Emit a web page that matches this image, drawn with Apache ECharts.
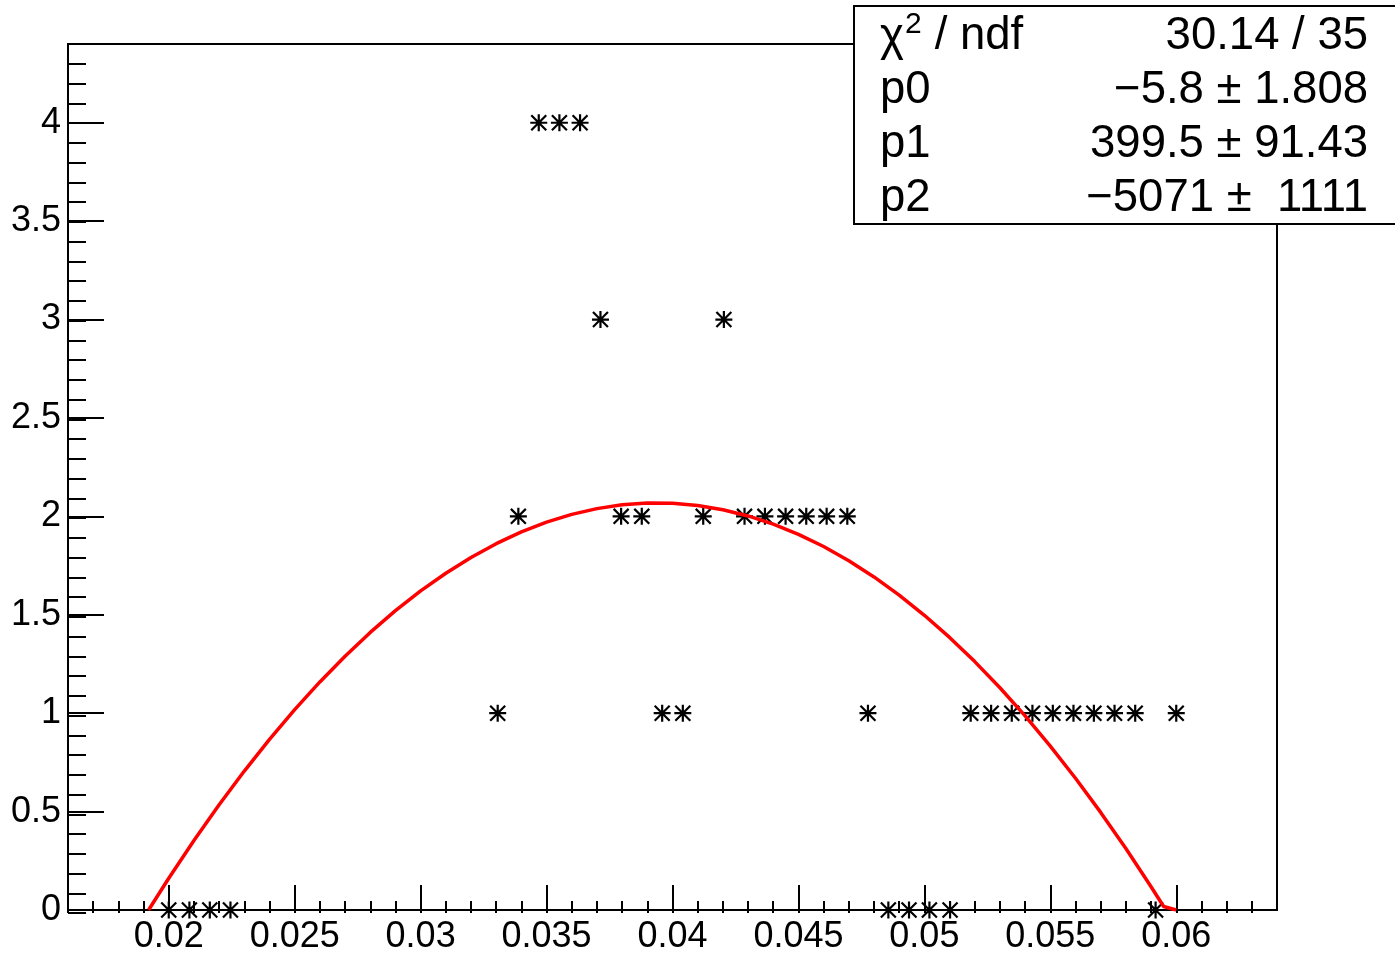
<!DOCTYPE html>
<html>
<head>
<meta charset="utf-8">
<script src="https://cdn.jsdelivr.net/npm/echarts@6/dist/echarts.min.js"></script>
<style>html,body{margin:0;padding:0;background:#fff}#c{width:1395px;height:955px}</style>
</head>
<body>
<div id="c"></div>
<script>
// ---- data ----
const xVals = [0.02, 0.02082, 0.02163, 0.02245,
  0.03306, 0.03388, 0.03469, 0.03551, 0.03633, 0.03714, 0.03796, 0.03878, 0.03959, 0.04041,
  0.04122, 0.04204, 0.04286, 0.04367, 0.04449, 0.04531, 0.04612, 0.04694, 0.04776, 0.04857,
  0.04939, 0.0502, 0.05102, 0.05184, 0.05265, 0.05347, 0.05429, 0.0551, 0.05592, 0.05673,
  0.05755, 0.05837, 0.05918, 0.06];
const yVals = [0, 0, 0, 0,
  1, 2, 4, 4, 4, 3, 2, 2, 1, 1,
  2, 3, 2, 2, 2, 2, 2, 2, 1, 0,
  0, 0, 0, 1, 1, 1, 1, 1, 1, 1,
  1, 1, 0, 1];

// fit curve (pol2) as drawn in the reference
const fitX = [0.0192, 0.020, 0.021, 0.022, 0.023, 0.024, 0.025, 0.026, 0.027, 0.028, 0.029,
  0.030, 0.031, 0.032, 0.033, 0.034, 0.035, 0.036, 0.037, 0.038, 0.039, 0.040, 0.041, 0.042,
  0.043, 0.044, 0.045, 0.046, 0.047, 0.048, 0.049, 0.050, 0.051, 0.052, 0.053, 0.054, 0.055,
  0.056, 0.057, 0.058, 0.059, 0.0595, 0.060];
const fitY = [0, 0.1615, 0.3531, 0.5346, 0.7059, 0.8671, 1.0181, 1.1589, 1.2897, 1.4103, 1.5208,
  1.6211, 1.7112, 1.7913, 1.8612, 1.9209, 1.9705, 2.0100, 2.0393, 2.0585, 2.0675, 2.0664, 2.0552, 2.0338,
  2.0022, 1.9606, 1.9087, 1.8468, 1.7747, 1.6924, 1.6001, 1.4975, 1.3849, 1.2621, 1.1291, 0.9860, 0.8328,
  0.6694, 0.4959, 0.3122, 0.1184, 0.018, 0];

// axis ticks and labels
const xMajor = [0.02, 0.025, 0.03, 0.035, 0.04, 0.045, 0.05, 0.055, 0.06];
const xLabels = ['0.02', '0.025', '0.03', '0.035', '0.04', '0.045', '0.05', '0.055', '0.06'];
const xMinor = [0.016, 0.017, 0.018, 0.019, 0.020, 0.021, 0.022, 0.023, 0.024, 0.025, 0.026, 0.027,
  0.028, 0.029, 0.030, 0.031, 0.032, 0.033, 0.034, 0.035, 0.036, 0.037, 0.038, 0.039, 0.040,
  0.041, 0.042, 0.043, 0.044, 0.045, 0.046, 0.047, 0.048, 0.049, 0.050, 0.051, 0.052, 0.053,
  0.054, 0.055, 0.056, 0.057, 0.058, 0.059, 0.060, 0.061, 0.062, 0.063];
const yMajor = [0, 0.5, 1, 1.5, 2, 2.5, 3, 3.5, 4];
const yLabels = ['0', '0.5', '1', '1.5', '2', '2.5', '3', '3.5', '4'];
const yMinor = [0, 0.1, 0.2, 0.3, 0.4, 0.5, 0.6, 0.7, 0.8, 0.9, 1.0, 1.1, 1.2, 1.3, 1.4, 1.5,
  1.6, 1.7, 1.8, 1.9, 2.0, 2.1, 2.2, 2.3, 2.4, 2.5, 2.6, 2.7, 2.8, 2.9, 3.0, 3.1, 3.2, 3.3,
  3.4, 3.5, 3.6, 3.7, 3.8, 3.9, 4.0, 4.1, 4.2, 4.3];

// stats box text
const statNames = ['p0', 'p1', 'p2'];
const statValues = ['\u22125.8 \u00b1 1.808', '399.5 \u00b1 91.43', '\u22125071 \u00b1  1111'];
const chiText = '30.14 / 35';

// ---- chart ----
const FONT = "'Liberation Sans', Arial, Helvetica, sans-serif";
const G = {left: 68, top: 44, width: 1209, height: 869};
const STAR = 'path://M0,-1L0,1M-1,0L1,0M-0.88,-0.88L0.88,0.88M-0.88,0.88L0.88,-0.88';

function lookup(vals, labels, v) {
  for (let i = 0; i < vals.length; i++) if (Math.abs(vals[i] - v) < 1e-9) return labels[i];
  return '';
}
const tickStyle = {color: '#000', width: 2};
const SF = 45.5;

const chart = echarts.init(document.getElementById('c'), null, {renderer: 'canvas'});
const statGraphics = [
  {type: 'rect', shape: {x: 854, y: 6, width: 600, height: 218},
   style: {fill: '#fff', stroke: '#000', lineWidth: 2}, z: 100},
  {type: 'text', x: 880, y: 37, z: 101,
   style: {text: '\u03c7', fontSize: SF, fontFamily: FONT, fill: '#000', align: 'left', verticalAlign: 'middle'}},
  {type: 'text', x: 905, y: 25, z: 101,
   style: {text: '2', fontSize: 30, fontFamily: FONT, fill: '#000', align: 'left', verticalAlign: 'middle'}},
  {type: 'text', x: 922, y: 36, z: 101,
   style: {text: ' / ndf', fontSize: SF, fontFamily: FONT, fill: '#000', align: 'left', verticalAlign: 'middle'}},
  {type: 'text', x: 1368, y: 36, z: 101,
   style: {text: chiText, fontSize: SF, fontFamily: FONT, fill: '#000', align: 'right', verticalAlign: 'middle'}}
];
const rowY = [90, 144, 198];
statNames.forEach((n, i) => {
  statGraphics.push({type: 'text', x: 880, y: rowY[i], z: 101,
    style: {text: n, fontSize: SF, fontFamily: FONT, fill: '#000', align: 'left', verticalAlign: 'middle'}});
  statGraphics.push({type: 'text', x: 1368, y: rowY[i], z: 101,
    style: {text: statValues[i], fontSize: SF, fontFamily: FONT, fill: '#000', align: 'right', verticalAlign: 'middle'}});
});

const option = {
  animation: false,
  backgroundColor: '#fff',
  grid: [
    Object.assign({show: true, borderColor: '#000', borderWidth: 2, backgroundColor: 'transparent'}, G),
    Object.assign({show: false}, G)
  ],
  xAxis: [
    {type: 'value', gridIndex: 0, min: 0.016, max: 0.064, position: 'bottom',
     axisLine: {show: true, onZero: false, lineStyle: tickStyle},
     axisTick: {show: true, inside: true, length: 25, customValues: xMajor, lineStyle: tickStyle},
     axisLabel: {show: true, customValues: xMajor, margin: 9, color: '#000', fontSize: 36, fontFamily: FONT,
       formatter: v => lookup(xMajor, xLabels, v)},
     splitLine: {show: false}},
    {type: 'value', gridIndex: 1, min: 0.016, max: 0.064, position: 'bottom',
     axisLine: {show: false, onZero: false},
     axisTick: {show: true, inside: true, length: 12, customValues: xMinor, lineStyle: tickStyle},
     axisLabel: {show: false},
     splitLine: {show: false}}
  ],
  yAxis: [
    {type: 'value', gridIndex: 0, min: 0, max: 4.4, position: 'left',
     axisLine: {show: true, onZero: false, lineStyle: tickStyle},
     axisTick: {show: true, inside: true, length: 36, customValues: yMajor, lineStyle: tickStyle},
     axisLabel: {show: true, customValues: yMajor, margin: 7, color: '#000', fontSize: 36, fontFamily: FONT,
       padding: [4, 0, 0, 0],
       formatter: v => lookup(yMajor, yLabels, v)},
     splitLine: {show: false}},
    {type: 'value', gridIndex: 1, min: 0, max: 4.4, position: 'left',
     axisLine: {show: false, onZero: false},
     axisTick: {show: true, inside: true, length: 18, customValues: yMinor, lineStyle: tickStyle},
     axisLabel: {show: false},
     splitLine: {show: false}}
  ],
  series: [
    {type: 'scatter', xAxisIndex: 0, yAxisIndex: 0, silent: true, clip: false,
     data: xVals.map((x, i) => [x, yVals[i]]),
     symbol: STAR, symbolSize: 17,
     itemStyle: {color: 'transparent', borderColor: '#000', borderWidth: 2.2, opacity: 1},
     z: 3},
    {type: 'line', xAxisIndex: 0, yAxisIndex: 0, silent: true,
     data: fitX.map((x, i) => [x, fitY[i]]),
     showSymbol: false, symbol: 'none', smooth: false,
     lineStyle: {color: '#ff0000', width: 3.5},
     z: 4}
  ],
  graphic: statGraphics
};
chart.setOption(option);
</script>
</body>
</html>
